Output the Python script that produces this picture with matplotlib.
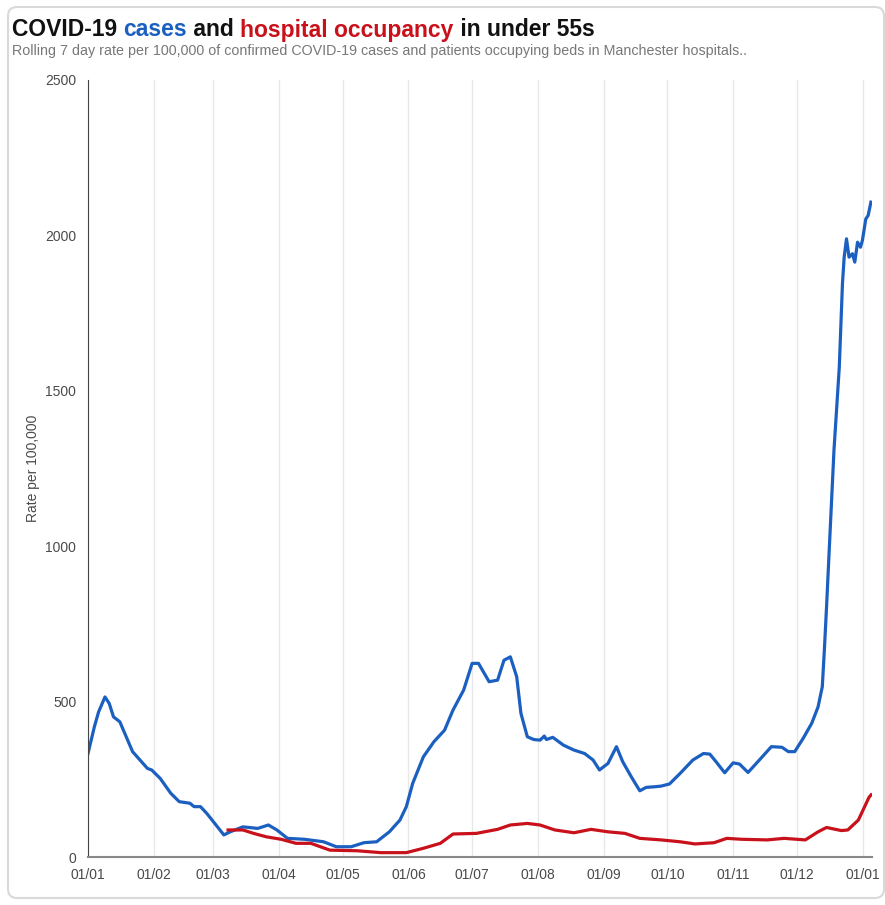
import matplotlib
matplotlib.use("Agg")
import matplotlib.pyplot as plt
import matplotlib.dates as mdates
from matplotlib.patches import FancyBboxPatch
import numpy as np

plt.rcParams['font.family'] = ['Liberation Sans', 'DejaVu Sans']

# data: days since 1 Jan 2021, rate per 100,000
start = np.datetime64('2021-01-01')

case_days = [0, 3, 5, 8, 10, 12, 15, 18, 21, 28, 30, 34, 39, 43, 48, 50, 53, 56, 61, 64,
             67, 73, 80, 85, 89, 94, 102, 111, 117, 124, 130, 136, 142, 147, 150, 153, 158,
             163, 168, 172, 177, 181, 184, 189, 193, 196, 199, 202, 204, 207, 210, 213, 215,
             216, 219, 224, 229, 234, 238, 241, 245, 249, 252, 256, 260, 263, 267, 270, 274,
             279, 285, 290, 293, 296, 300, 304, 307, 311, 317, 322, 327, 330, 333, 337, 341,
             344, 346, 347, 348, 349, 351.5, 354, 355.5, 356.3, 357.4, 358.6, 360.2, 361.3,
             362.6, 364, 364.9, 366.5, 367.6, 368.9]
case_rate = [333, 419, 467, 515, 494, 451, 435, 387, 339, 285, 280, 253, 205, 178, 173, 162,
             162, 140, 97, 71, 81, 97, 92, 103, 87, 60, 57, 49, 33, 33, 46, 49, 81, 119, 162,
             237, 322, 371, 408, 473, 537, 623, 623, 564, 569, 633, 644, 580, 462, 387, 378,
             376, 389, 378, 385, 360, 344, 333, 312, 280, 301, 355, 306, 258, 213, 224, 226,
             228, 235, 269, 312, 333, 331, 306, 271, 303, 299, 272, 317, 355, 353, 339, 339,
             382, 430, 483, 548, 670, 805, 950, 1309, 1576, 1845, 1930, 1989, 1930, 1941,
             1914, 1978, 1962, 1984, 2053, 2064, 2107]

bed_days = [66, 73, 78, 84, 91, 98, 105, 114, 127, 138, 150, 158, 166, 172, 183, 193, 199,
            207, 213, 220, 229, 237, 245, 253, 260, 270, 279, 286, 295, 301, 308, 320, 328,
            338, 344, 348, 355, 358, 363, 368, 369]
bed_rate = [87, 87, 76, 65, 57, 44, 44, 22, 20, 14, 14, 28, 44, 74, 76, 89, 103, 108, 103,
            87, 78, 89, 81, 76, 60, 55, 49, 42, 46, 60, 57, 55, 60, 55, 81, 95, 85, 87, 119,
            192, 200]

yticks = [0, 500, 1000, 1500, 2000, 2500]

BLUE = '#1b5fc0'
RED = '#c8111b'


def to_dates(days):
    return start + (np.array(days) * 24 * 3600).astype('timedelta64[s]')


fig = plt.figure(figsize=(8.85, 9.05), dpi=100)

# card border
card = FancyBboxPatch((8 / 885, 7 / 905), 876 / 885, 891 / 905,
                      boxstyle="round,pad=0,rounding_size=0.01",
                      transform=fig.transFigure, facecolor='none',
                      edgecolor='#d9d9d9', lw=1.5, zorder=-1)
fig.patches.append(card)

ax = fig.add_axes([88 / 885, 48 / 905, 784 / 885, 777 / 905])
ax.plot(to_dates(case_days), case_rate, color=BLUE, lw=2.3, solid_joinstyle='round')
ax.plot(to_dates(bed_days), bed_rate, color=RED, lw=2.3, solid_joinstyle='round')

ax.set_ylim(0, 2500)
ax.set_xlim(start, start + np.timedelta64(369 * 24 + 10, 'h'))
ax.set_yticks(yticks)
ax.xaxis.set_major_locator(mdates.MonthLocator())
ax.xaxis.set_major_formatter(mdates.DateFormatter('%d/%m'))
ax.tick_params(length=0, labelsize=10, colors='#4a4a4a')
ax.tick_params(axis='x', pad=8)
ax.tick_params(axis='y', pad=8.5)
ax.grid(axis='x', color='#e8e8e8', lw=1)
ax.set_axisbelow(True)
for s in ['top', 'right']:
    ax.spines[s].set_visible(False)
ax.spines['left'].set_color('#444444')
ax.spines['bottom'].set_color('#888888')
ax.spines['bottom'].set_linewidth(1.5)
ax.set_ylabel('Rate per 100,000', fontsize=10, color='#4a4a4a', labelpad=4)

# title in several colours
title_parts = [('COVID-19 ', '#111111'), ('cases', BLUE), (' and ', '#111111'),
               ('hospital occupancy', RED), (' in under 55s', '#111111')]
fig.canvas.draw()
r = fig.canvas.get_renderer()
x = 12 / 885
for txt, col in title_parts:
    t = fig.text(x, 1 - 30 / 905, txt, color=col, fontsize=16.5, fontweight='bold', va='center')
    bb = t.get_window_extent(r)
    x = bb.x1 / fig.bbox.width

fig.text(12 / 885, 1 - 51 / 905,
         'Rolling 7 day rate per 100,000 of confirmed COVID-19 cases and patients '
         'occupying beds in Manchester hospitals..',
         fontsize=10.3, color='#777777', va='center')

fig.savefig('out.png', dpi=100)
